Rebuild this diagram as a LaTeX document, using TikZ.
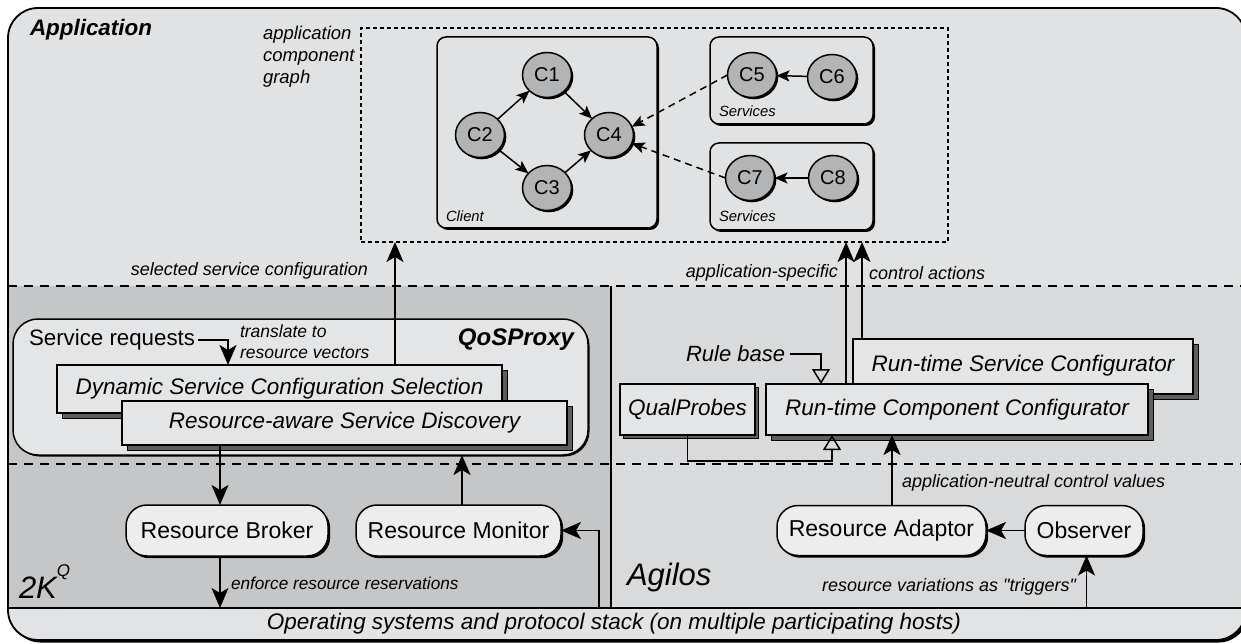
\documentclass[tikz,border=0pt]{standalone}
\usepackage{fontspec}
\setmainfont{Liberation Sans}
\newfontfamily\plainfont{Liberation Sans}[Ligatures=TeXOff]
\usetikzlibrary{arrows.meta,shadows,shapes.geometric,calc}

\definecolor{appbg}{HTML}{E1E2E3}
\definecolor{proxybg}{HTML}{C5C6C7}
\definecolor{agilosbg}{HTML}{D9DADC}
\definecolor{osbg}{HTML}{E2E3E4}
\definecolor{boxbg}{HTML}{E4E5E6}
\definecolor{pillbg}{HTML}{EDEDED}
\definecolor{compbg}{HTML}{B3B4B6}
\definecolor{stackgray}{HTML}{5E5E5E}

\tikzset{
  every node/.style={inner sep=0pt, outer sep=0pt},
  txt/.style={font=\fontsize{18}{21}\selectfont\itshape},
  smalltxt/.style={font=\fontsize{17.5}{21}\selectfont\itshape},
  tinytxt/.style={font=\fontsize{14.8}{17}\selectfont\itshape},
  titletxt/.style={font=\fontsize{22.4}{26}\selectfont\bfseries\itshape},
  bigtxt/.style={font=\fontsize{31}{34}\selectfont\itshape},
  comp/.style={ellipse, draw, line width=1.5pt, fill=compbg, minimum width=49pt,
    minimum height=45pt, font=\fontsize{20}{22}\selectfont,
    drop shadow={shadow xshift=1.8pt, shadow yshift=-1.8pt, fill=black, opacity=1}},
  groupbox/.style={draw, line width=1.5pt, rounded corners=9pt, fill=appbg,
    drop shadow={shadow xshift=2pt, shadow yshift=-2pt, fill=black, opacity=1}},
  stackbox/.style={draw, line width=1.6pt, fill=boxbg,
    font=\fontsize{22.5}{26}\selectfont\itshape,
    drop shadow={shadow xshift=#1, shadow yshift=-#1, fill=stackgray, draw=black,
      line width=1pt, opacity=1}},
  stackbox/.default=5pt,
  pill/.style={draw, line width=1.5pt, fill=pillbg, rounded corners=21pt,
    font=\fontsize{23}{26}\selectfont,
    drop shadow={shadow xshift=2.2pt, shadow yshift=-2.2pt, fill=black, opacity=1}},
  conn/.style={line width=1.7pt, -{Stealth[length=20pt,width=17pt,inset=5pt]}},
  gconn/.style={line width=1.5pt, -{Stealth[length=13pt,width=11pt,inset=3pt]}},
  hollow/.style={line width=1.5pt, -{Triangle[open,length=15pt,width=18pt]}},
  layerline/.style={line width=1.5pt, dash pattern=on 9pt off 7pt},
}

\begin{document}
\begin{tikzpicture}[x=1pt,y=-1pt]
\useasboundingbox (0,0) rectangle (1241,644);

% outer frame with the three layers
\begin{scope}
  \clip (0,0) rectangle (1241,644);
  \fill[black, rounded corners=30pt] (10.5,10.5) rectangle (1248.5,642.5);
  \fill[appbg, rounded corners=30pt] (8,8) rectangle (1246,640);
  \begin{scope}
    \clip[rounded corners=30pt] (8,8) rectangle (1246,640);
    \fill[proxybg] (8,286) rectangle (611,608);
    \fill[agilosbg] (611,286) rectangle (1246,608);
    \fill[osbg] (8,608) rectangle (1246,640);
  \end{scope}
  \draw[layerline] (8,286) -- (1246,286);
  \draw[layerline] (8,464) -- (1246,464);
  \draw[line width=1.6pt] (8,608) -- (1246,608);
  \draw[line width=2.8pt] (611,286) -- (611,608);
  \draw[line width=1.8pt, rounded corners=30pt] (8,8) rectangle (1246,640);
\end{scope}
\coordinate (oslevel) at (0,608);

% application layer
\node[titletxt, anchor=west] (apptitle) at (30,30) {Application};
\node[align=left, anchor=north west, font=\fontsize{18.5}{22}\selectfont\itshape] (graphlabel) at (263,26) {application\\component\\graph};
\node[draw, line width=1.6pt, dash pattern=on 4pt off 3pt, minimum width=587pt, minimum height=214pt] (graph) at (654.5,135) {};

\node[groupbox, minimum width=220pt, minimum height=191pt] (client) at (547,132.5) {};
\node[groupbox, minimum width=163pt, minimum height=87pt] (svcA) at (791.5,80.5) {};
\node[groupbox, minimum width=163pt, minimum height=87pt] (svcB) at (791.5,186.5) {};
\node[tinytxt, anchor=base west] (clientlbl) at (446,222) {Client};
\node[tinytxt, anchor=base west] (svcAlbl) at (719,117) {Services};
\node[tinytxt, anchor=base west] (svcBlbl) at (719,222) {Services};

\node[comp] (c1) at (547,75) {C1};
\node[comp] (c2) at (480,135) {C2};
\node[comp] (c3) at (547,188) {C3};
\node[comp] (c4) at (609,135) {C4};
\node[comp] (c5) at (752,75) {C5};
\node[comp] (c6) at (832,77) {C6};
\node[comp] (c7) at (750,178) {C7};
\node[comp] (c8) at (833,178) {C8};

\draw[gconn] (c2) -- (c1);
\draw[gconn] (c2) -- (c3);
\draw[gconn] (c1) -- (c4);
\draw[gconn] (c3) -- (c4);
\draw[gconn] (c6) -- (c5);
\draw[gconn] (c8) -- (c7);
\draw[gconn, dash pattern=on 7pt off 5pt] (c5.west) -- (c4.20);
\draw[gconn, dash pattern=on 7pt off 5pt] (c7.west) -- (c4.-20);

% QoSProxy layer
\node[draw, line width=1.5pt, rounded corners=25pt, fill=boxbg, minimum width=575pt, minimum height=136pt,
  drop shadow={shadow xshift=1.5pt, shadow yshift=-1.5pt, fill=black, opacity=1}] (qos) at (300.5,387) {};
\node[font=\fontsize{22.3}{26}\selectfont, anchor=west] (req) at (29,340) {Service requests};
\node[smalltxt, align=left, anchor=west] (translate) at (240,341.5) {translate to\\resource vectors};
\node[font=\fontsize{24}{28}\selectfont\bfseries\itshape, anchor=east] (qostitle) at (574,340) {QoSProxy};
\node[stackbox, minimum width=445pt, minimum height=48pt] (dscs) at (279.5,389) {\raisebox{5pt}{Dynamic Service Configuration Selection}};
\node[stackbox, minimum width=445pt, minimum height=44pt] (rsd) at (344.5,423) {Resource-aware Service Discovery};
\draw[conn] ($(req.east)+(3,0)$) -| ($(dscs.north west)+(171,0)$);

\coordinate (selbase) at ($(dscs.north west)+(338,0)$);
\draw[conn] (selbase) -- (selbase |- graph.south);
\node[txt, anchor=east] (sellbl) at (368,271) {selected service configuration};

% 2K^Q layer
\node[pill, minimum width=202pt, minimum height=51pt] (rb) at (227,530.5) {Resource Broker};
\node[pill, minimum width=205pt, minimum height=51pt] (rm) at (458.5,530.5) {Resource Monitor};
\coordinate (rbin) at ($(rb.north)+(-7,0)$);
\draw[conn] (rbin |- rsd.south) -- (rbin);
\draw[conn] (rbin |- rb.south) -- (rbin |- oslevel);
\coordinate (rmout) at ($(rm.north)+(3.5,0)$);
\draw[conn] (rmout) -- (rmout |- qos.south);
\coordinate (rmfeed) at (599,608);
\draw[conn] (rmfeed) |- (rm.east);
\node[font=\fontsize{17.2}{20}\selectfont\itshape, anchor=west] (enforce) at (231,583) {enforce resource reservations};
\node[bigtxt, anchor=base west] (tk) at (19,598) {2K\raisebox{22pt}{\fontsize{17}{17}\selectfont Q}};

% Agilos layer
\node[stackbox, minimum width=340pt, minimum height=55pt] (rsc) at (1023,366.5) {\raisebox{6pt}{Run-time Service Configurator}};
\node[stackbox=3pt, minimum width=135pt, minimum height=51pt] (qp) at (687.5,409.5) {QualProbes};
\node[stackbox, minimum width=382pt, minimum height=51pt] (rcc) at (957,409.5) {Run-time Component Configurator};
\node[font=\fontsize{22}{26}\selectfont\itshape, anchor=west] (rule) at (686,354) {Rule base};
\draw[hollow] ($(rule.east)+(5,0)$) -| ($(rcc.north west)+(55,0)$);
\coordinate (qpturn) at (0,461);
\draw[hollow] (qp.south) -- (qp.south |- qpturn) -| ($(rcc.south west)+(66,0)$);

\coordinate (rccout) at ($(rcc.north west)+(80,0)$);
\draw[conn] (rccout) -- (rccout |- graph.south);
\coordinate (rscout) at ($(rsc.north west)+(9,0)$);
\draw[conn] (rscout) -- (rscout |- graph.south);
\node[txt, anchor=east] (asp) at (838,273) {application-specific};
\node[txt, anchor=west] (ctl) at (869,273) {control actions};

\node[pill, minimum width=209pt, minimum height=50pt] (ra) at (881.5,530.5) {Resource Adaptor};
\node[pill, minimum width=118pt, minimum height=50pt] (obs) at (1084,530.5) {Observer};
\draw[conn] (obs) -- (ra);
\coordinate (raout) at ($(ra.north)+(10.5,0)$);
\draw[conn] (raout) -- (raout |- rcc.south);
\coordinate (obsin) at ($(obs.south)+(2.5,0)$);
\draw[conn] (obsin |- oslevel) -- (obsin);
\node[txt, anchor=west] (neutral) at (902,483) {application-neutral control values};
\node[txt, anchor=east] (trig) at (1076,587) {resource variations as {\plainfont\itshape"}triggers{\plainfont\itshape"}};
\node[bigtxt, anchor=base west] (agilos) at (627,585) {Agilos};

% operating system bar
\node[font=\fontsize{22.5}{26}\selectfont\itshape] (os) at (614,624) {Operating systems and protocol stack (on multiple participating hosts)};
\end{tikzpicture}
\end{document}
